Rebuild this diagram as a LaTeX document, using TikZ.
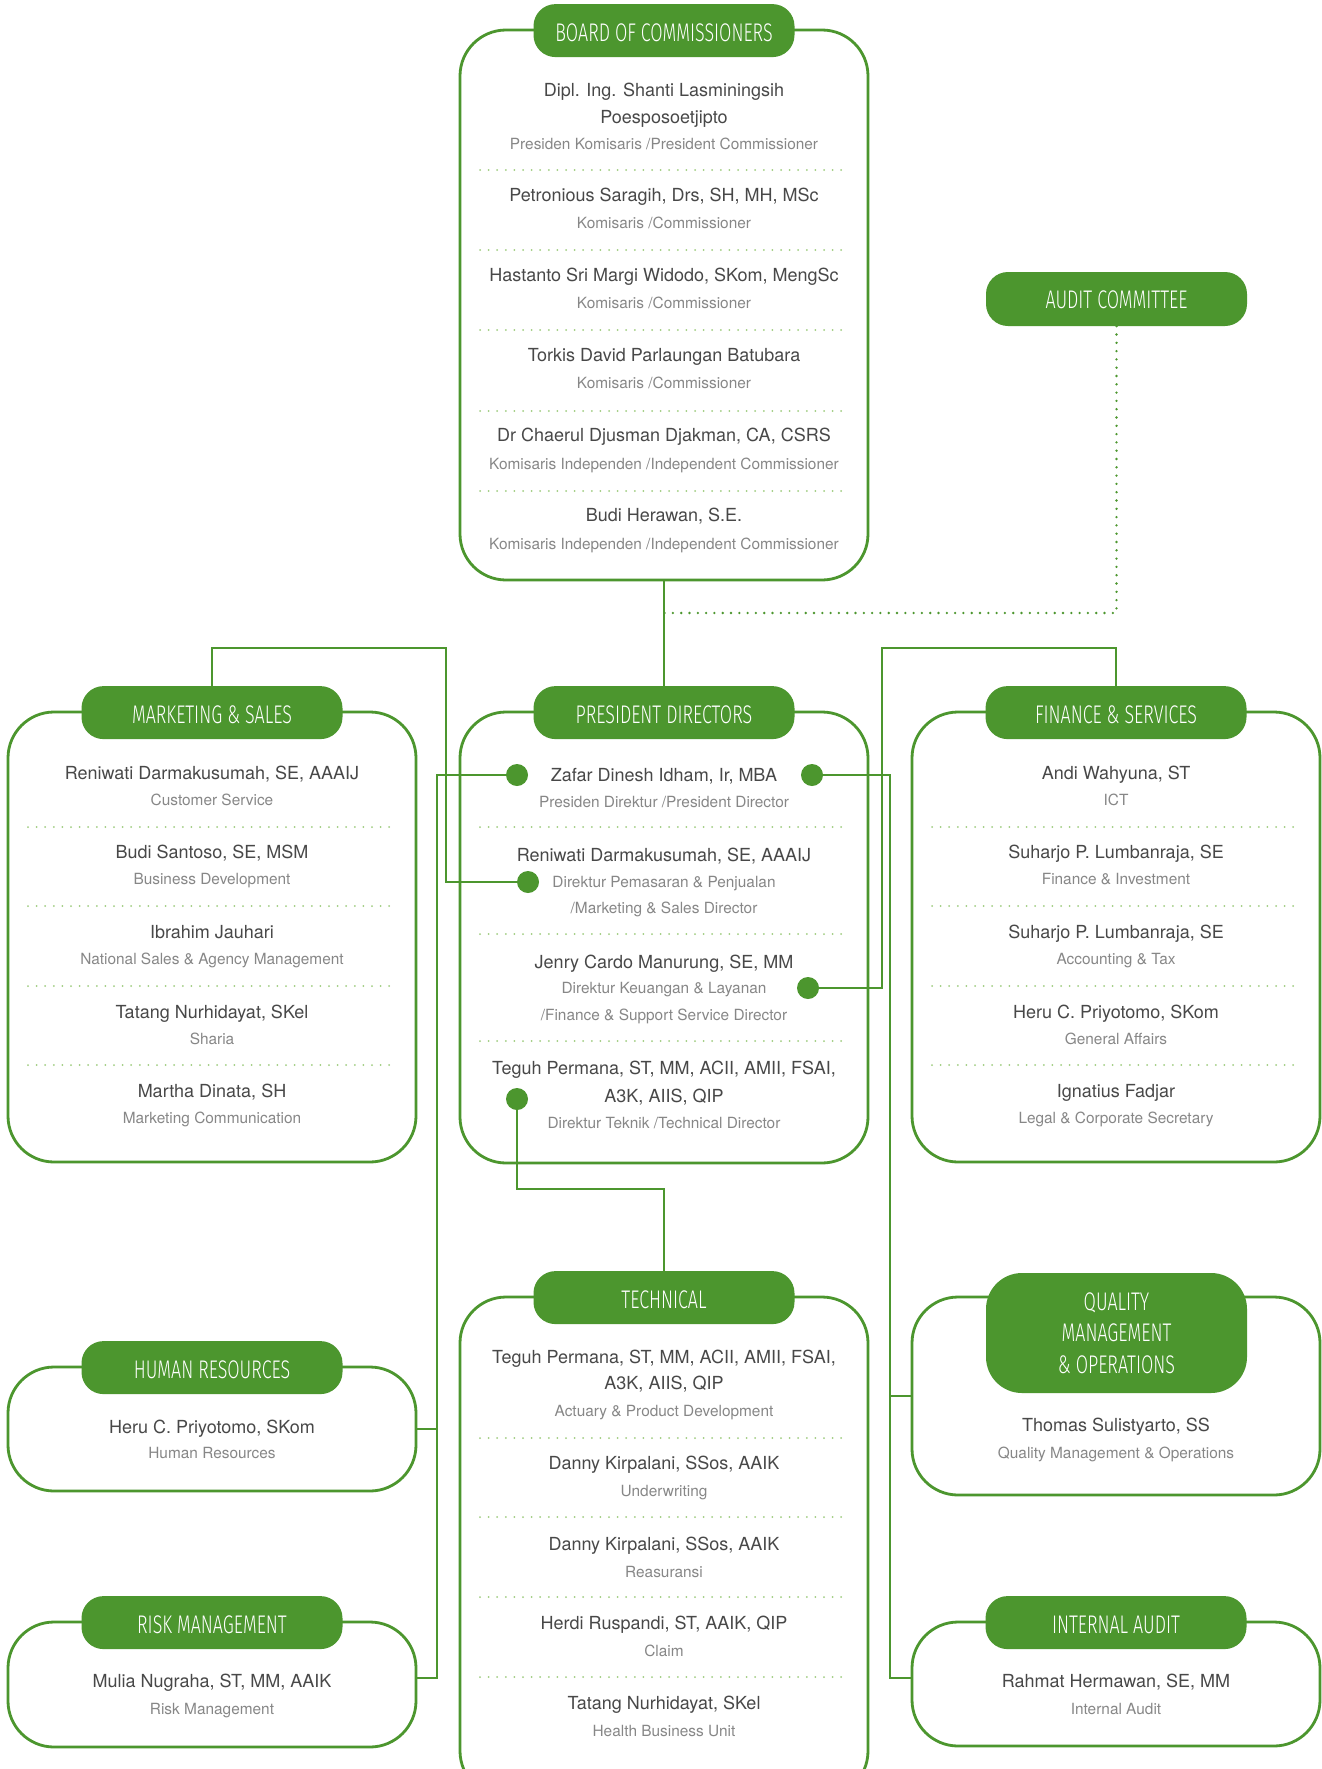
\documentclass[tikz,border=0pt]{standalone}
\usepackage{fontspec}
\setmainfont{TeX Gyre Heros}
\newfontfamily\headfont{Fira Sans Light}[FakeStretch=0.70]
\usepackage{tikz}
\definecolor{orggreen}{RGB}{76,150,46}
\definecolor{seplight}{RGB}{158,204,126}
\definecolor{namegray}{RGB}{72,72,72}
\definecolor{rolegray}{RGB}{135,135,135}
\tikzset{
  unitbox/.style={draw=orggreen, line width=2.8pt, rounded corners=46pt,
    inner sep=0pt, minimum width=408pt},
  headtext/.style={text=white, inner sep=0pt, text height=22pt, text depth=0pt,
    font=\headfont\fontsize{25.5}{30}\selectfont},
  headpill/.style={headtext, fill=orggreen, rounded corners=22pt,
    minimum width=261pt, minimum height=53pt},
  nametext/.style={anchor=base, inner sep=0pt, text=namegray,
    font=\fontsize{18}{22}\selectfont},
  roletext/.style={anchor=base, inner sep=0pt, text=rolegray,
    font=\fontsize{15.4}{19}\selectfont},
  dotnode/.style={circle, fill=orggreen, minimum size=22pt, inner sep=0pt},
  link/.style={draw=orggreen, line width=2.8pt},
  auditlink/.style={draw=orggreen, line width=2.6pt, line cap=round,
    dash pattern=on 0pt off 8.3pt},
  sepline/.style={draw=seplight, line width=2pt, line cap=round,
    dash pattern=on 0pt off 8.6pt}
}

\begin{document}
\begin{tikzpicture}[x=1pt, y=-1pt]
\useasboundingbox (0,0) rectangle (1322,1769);
\fill[white] (0,0) rectangle (1322,1769);
% unit boxes
\node[unitbox, minimum height=550pt] (brd) at (664,305) {};
\node[unitbox, minimum height=451pt] (pres) at (664,937.5) {};
\node[unitbox, minimum height=450pt] (mkt) at (212,937) {};
\node[unitbox, minimum height=450pt] (fin) at (1116,937) {};
\node[unitbox, minimum height=500pt] (tech) at (664,1547) {};
\node[unitbox, minimum height=124pt] (hr) at (212,1429) {};
\node[unitbox, minimum height=125pt] (risk) at (212,1684.5) {};
\node[unitbox, minimum height=198pt] (qual) at (1116,1396) {};
\node[unitbox, minimum height=124pt] (ia) at (1116,1684) {};
% headers
\node[headpill] (brdhead) at ([yshift=-2pt]brd.north) {BOARD OF COMMISSIONERS};
\node[headpill] (preshead) at ([yshift=-2pt]pres.north) {PRESIDENT DIRECTORS};
\node[headpill] (mkthead) at ([yshift=-2pt]mkt.north) {MARKETING \& SALES};
\node[headpill] (finhead) at ([yshift=-2pt]fin.north) {FINANCE \& SERVICES};
\node[headpill] (techhead) at ([yshift=-2pt]tech.north) {TECHNICAL};
\node[headpill] (hrhead) at ([yshift=-2pt]hr.north) {HUMAN RESOURCES};
\node[headpill] (riskhead) at ([yshift=-2pt]risk.north) {RISK MANAGEMENT};
\node[headpill] (iahead) at ([yshift=-2pt]ia.north) {INTERNAL AUDIT};
\node[headpill, minimum height=54pt, text height=18.5pt] (audhead) at (1116.5,299) {AUDIT COMMITTEE};
\node[headpill, minimum height=120pt, rounded corners=36pt] (qualhead) at (1116.5,1333) {};
\foreach \y/\t [count=\i] in {1299.5/QUALITY,1330.5/MANAGEMENT,1362.5/{\& OPERATIONS}}
  \node[headtext] (qual-h\i) at (1116.5,\y) {\t};
% dotted separators
\foreach \y in {170,250,330,411,491} \draw[sepline] (480,\y) -- (848,\y);
\foreach \y in {827,934,1041} \draw[sepline] (480,\y) -- (848,\y);
\foreach \y in {1438,1517,1597,1677} \draw[sepline] (480,\y) -- (848,\y);
\foreach \y in {827,906,986,1065} {
  \draw[sepline] (28,\y) -- (396,\y);
  \draw[sepline] (932,\y) -- (1300,\y);
}
% board of commissioners
\foreach \y/\t [count=\i] in {96.5/{Dipl. Ing. Shanti Lasminingsih},123.5/Poesposoetjipto,
    201.5/{Petronious Saragih, Drs, SH, MH, MSc},281.5/{Hastanto Sri Margi Widodo, SKom, MengSc},
    361.5/Torkis David Parlaungan Batubara,441.5/{Dr Chaerul Djusman Djakman, CA, CSRS},
    521.5/{Budi Herawan, S.E.}}
  \node[nametext] (brd-n\i) at (664,\y) {\t};
\foreach \y/\t [count=\i] in {149.5/{Presiden Komisaris /President Commissioner},
    228.5/{Komisaris /Commissioner},308.5/{Komisaris /Commissioner},388.5/{Komisaris /Commissioner},
    469.5/{Komisaris Independen /Independent Commissioner},
    549.5/{Komisaris Independen /Independent Commissioner}}
  \node[roletext] (brd-r\i) at (664,\y) {\t};
% president directors
\foreach \y/\t [count=\i] in {781.5/{Zafar Dinesh Idham, Ir, MBA},861.5/{Reniwati Darmakusumah, SE, AAAIJ},
    968.5/{Jenry Cardo Manurung, SE, MM},1074.5/{Teguh Permana, ST, MM, ACII, AMII, FSAI,},
    1102.5/{A3K, AIIS, QIP}}
  \node[nametext] (pres-n\i) at (664,\y) {\t};
\foreach \y/\t [count=\i] in {807.5/{Presiden Direktur /President Director},
    887.5/{Direktur Pemasaran \& Penjualan},913.5/{/Marketing \& Sales Director},
    993.5/{Direktur Keuangan \& Layanan},1020.5/{/Finance \& Support Service Director},
    1128.5/{Direktur Teknik /Technical Director}}
  \node[roletext] (pres-r\i) at (664,\y) {\t};
% marketing and sales
\foreach \y/\n/\r [count=\i] in {779.5/{Reniwati Darmakusumah, SE, AAAIJ}/{Customer Service},
    858.5/{Budi Santoso, SE, MSM}/{Business Development},
    938.5/{Ibrahim Jauhari}/{National Sales \& Agency Management},
    1018.5/{Tatang Nurhidayat, SKel}/{Sharia},
    1097.5/{Martha Dinata, SH}/{Marketing Communication}} {
  \node[nametext] (mkt-n\i) at (212,\y) {\n};
  \node[roletext] (mkt-r\i) at (212,\y+26) {\r};
}
% finance and services
\foreach \y/\n/\r [count=\i] in {779.5/{Andi Wahyuna, ST}/{ICT},
    858.5/{Suharjo P. Lumbanraja, SE}/{Finance \& Investment},
    938.5/{Suharjo P. Lumbanraja, SE}/{Accounting \& Tax},
    1018.5/{Heru C. Priyotomo, SKom}/{General Affairs},
    1097.5/{Ignatius Fadjar}/{Legal \& Corporate Secretary}} {
  \node[nametext] (fin-n\i) at (1116,\y) {\n};
  \node[roletext] (fin-r\i) at (1116,\y+26) {\r};
}
% technical
\node[nametext] (tech-n0) at (664,1363.5) {Teguh Permana, ST, MM, ACII, AMII, FSAI,};
\foreach \y/\n/\r [count=\i] in {1389.5/{A3K, AIIS, QIP}/{Actuary \& Product Development},
    1469.5/{Danny Kirpalani, SSos, AAIK}/{Underwriting},
    1550.5/{Danny Kirpalani, SSos, AAIK}/{Reasuransi},
    1629.5/{Herdi Ruspandi, ST, AAIK, QIP}/{Claim},
    1709.5/{Tatang Nurhidayat, SKel}/{Health Business Unit}} {
  \node[nametext] (tech-n\i) at (664,\y) {\n};
  \node[roletext] (tech-r\i) at (664,\y+27) {\r};
}
% single-person units
\node[nametext] (hr-n) at (212,1433.5) {Heru C. Priyotomo, SKom};
\node[roletext] (hr-r) at (212,1458.5) {Human Resources};
\node[nametext] (risk-n) at (212,1687.5) {Mulia Nugraha, ST, MM, AAIK};
\node[roletext] (risk-r) at (212,1714.5) {Risk Management};
\node[nametext] (qual-n) at (1116,1431.5) {Thomas Sulistyarto, SS};
\node[roletext] (qual-r) at (1116,1458.5) {Quality Management \& Operations};
\node[nametext] (ia-n) at (1116,1687.5) {Rahmat Hermawan, SE, MM};
\node[roletext] (ia-r) at (1116,1714.5) {Internal Audit};
% connectors
\node[dotnode] (dzafl) at (517,775) {};
\node[dotnode] (dzafr) at (812,775) {};
\node[dotnode] (dreni) at (528,882) {};
\node[dotnode] (djenry) at (808,988) {};
\node[dotnode] (dteguh) at (517,1099) {};
\coordinate (jbrd) at (664,613);
\coordinate (jmkt) at (446,648);
\coordinate (jfin) at (882,648);
\coordinate (jleft) at (437,1678);
\coordinate (jright) at (890,1678);
\coordinate (jtech) at (517,1189);
\draw[link] (brd.south) -- (preshead.north);
\draw[auditlink] (audhead.south) |- (jbrd);
\draw[link] (dreni.center) -| (jmkt) -| (mkthead.north);
\draw[link] (djenry.center) -| (jfin) -| (finhead.north);
\draw[link] (dzafl.center) -| (jleft) -- (jleft -| risk.east);
\draw[link] (hr.east) -- (hr.east -| jleft);
\draw[link] (dzafr.center) -| (jright) -- (jright -| ia.west);
\draw[link] (qual.west) -- (qual.west -| jright);
\draw[link] (dteguh.center) -- (jtech) -| (techhead.north);
\end{tikzpicture}
\end{document}
